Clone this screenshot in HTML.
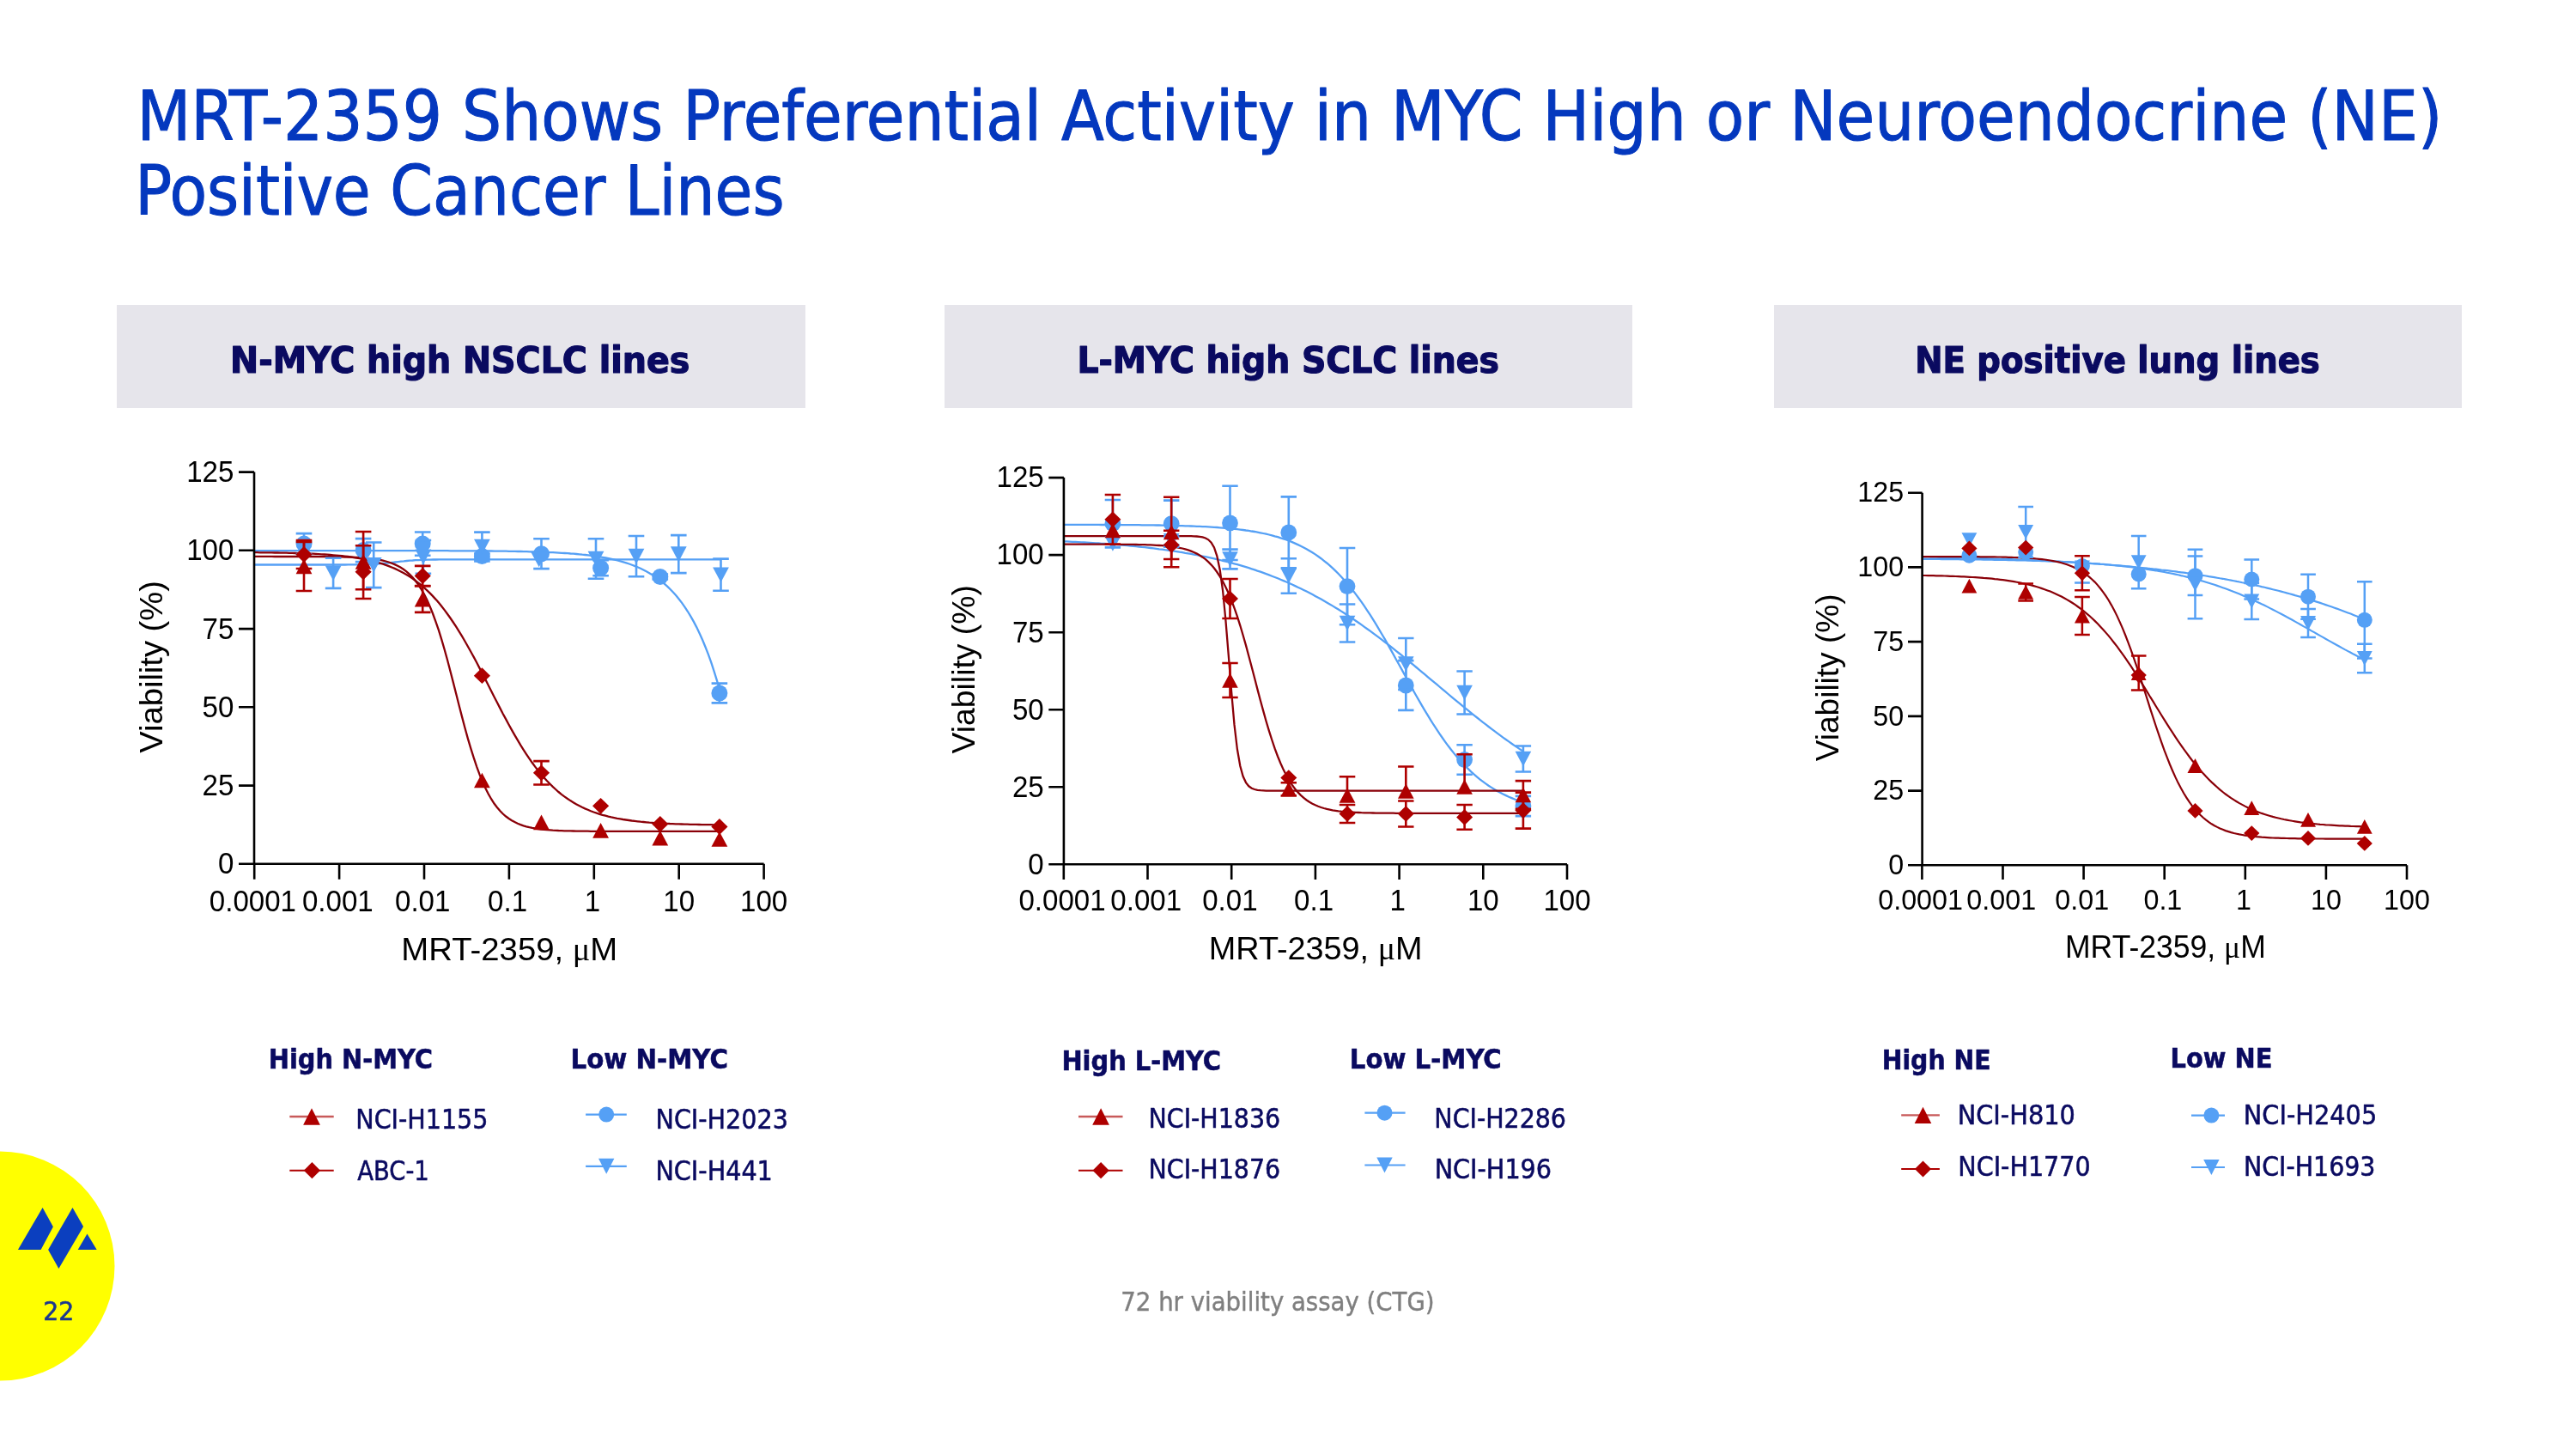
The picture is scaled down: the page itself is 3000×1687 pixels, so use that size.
<!DOCTYPE html>
<html><head><meta charset="utf-8"><title>MRT-2359 Shows Preferential Activity in MYC High or Neuroendocrine (NE) Positive Cancer Lines</title>
<style>html,body{margin:0;padding:0;background:#fff;width:3000px;height:1687px;overflow:hidden}svg{display:block;will-change:transform}</style>
</head><body>
<svg width="3000" height="1687" viewBox="0 0 3000 1687">
<rect width="3000" height="1687" fill="#fff"/>
<g font-family="'DejaVu Sans Condensed', 'DejaVu Sans', sans-serif" fill="#0438BE" stroke="#0438BE" stroke-width="1.0" paint-order="stroke" stroke-linejoin="round"><text x="159.50" y="163.10" text-anchor="start" font-size="80" textLength="2684.77" lengthAdjust="spacingAndGlyphs">MRT-2359 Shows Preferential Activity in MYC High or Neuroendocrine (NE)</text><text x="157.25" y="250.10" text-anchor="start" font-size="80" textLength="756.28" lengthAdjust="spacingAndGlyphs">Positive Cancer Lines</text></g>
<rect x="136" y="355" width="802" height="120" fill="#E6E5EB"/>
<g font-family="'DejaVu Sans Condensed', 'DejaVu Sans', sans-serif" font-weight="bold" fill="#0A0A60" stroke="#0A0A60" stroke-width="1.2" paint-order="stroke" stroke-linejoin="round"><text x="535.75" y="434.30" text-anchor="middle" font-size="43.4" textLength="535.26" lengthAdjust="spacingAndGlyphs">N-MYC high NSCLC lines</text></g>
<rect x="1100" y="355" width="801" height="120" fill="#E6E5EB"/>
<g font-family="'DejaVu Sans Condensed', 'DejaVu Sans', sans-serif" font-weight="bold" fill="#0A0A60" stroke="#0A0A60" stroke-width="1.2" paint-order="stroke" stroke-linejoin="round"><text x="1500.20" y="434.30" text-anchor="middle" font-size="43.4" textLength="491.58" lengthAdjust="spacingAndGlyphs">L-MYC high SCLC lines</text></g>
<rect x="2066" y="355" width="801" height="120" fill="#E6E5EB"/>
<g font-family="'DejaVu Sans Condensed', 'DejaVu Sans', sans-serif" font-weight="bold" fill="#0A0A60" stroke="#0A0A60" stroke-width="1.2" paint-order="stroke" stroke-linejoin="round"><text x="2466.05" y="434.30" text-anchor="middle" font-size="43.4" textLength="471.67" lengthAdjust="spacingAndGlyphs">NE positive lung lines</text></g>
<g font-family="'Liberation Sans', Arial, sans-serif" fill="#000"><path d="M296.0,641.1 L299.4,641.1 L302.8,641.1 L306.2,641.1 L309.6,641.1 L313.1,641.1 L316.5,641.1 L319.9,641.1 L323.3,641.1 L326.7,641.1 L330.1,641.1 L333.5,641.1 L336.9,641.1 L340.4,641.1 L343.8,641.1 L347.2,641.1 L350.6,641.1 L354.0,641.1 L357.4,641.1 L360.8,641.1 L364.2,641.1 L367.7,641.1 L371.1,641.1 L374.5,641.1 L377.9,641.1 L381.3,641.1 L384.7,641.1 L388.1,641.1 L391.5,641.1 L394.9,641.1 L398.4,641.1 L401.8,641.1 L405.2,641.1 L408.6,641.1 L412.0,641.1 L415.4,641.1 L418.8,641.1 L422.2,641.1 L425.7,641.1 L429.1,641.1 L432.5,641.1 L435.9,641.1 L439.3,641.1 L442.7,641.1 L446.1,641.1 L449.5,641.1 L452.9,641.1 L456.4,641.1 L459.8,641.1 L463.2,641.1 L466.6,641.1 L470.0,641.2 L473.4,641.2 L476.8,641.2 L480.2,641.2 L483.7,641.2 L487.1,641.2 L490.5,641.2 L493.9,641.2 L497.3,641.2 L500.7,641.2 L504.1,641.2 L507.5,641.2 L511.0,641.2 L514.4,641.2 L517.8,641.2 L521.2,641.2 L524.6,641.3 L528.0,641.3 L531.4,641.3 L534.8,641.3 L538.2,641.3 L541.7,641.3 L545.1,641.3 L548.5,641.4 L551.9,641.4 L555.3,641.4 L558.7,641.4 L562.1,641.4 L565.5,641.5 L569.0,641.5 L572.4,641.5 L575.8,641.6 L579.2,641.6 L582.6,641.6 L586.0,641.7 L589.4,641.7 L592.8,641.8 L596.3,641.8 L599.7,641.9 L603.1,642.0 L606.5,642.0 L609.9,642.1 L613.3,642.2 L616.7,642.3 L620.1,642.4 L623.5,642.5 L627.0,642.6 L630.4,642.7 L633.8,642.8 L637.2,642.9 L640.6,643.1 L644.0,643.2 L647.4,643.4 L650.8,643.6 L654.3,643.8 L657.7,644.0 L661.1,644.2 L664.5,644.5 L667.9,644.7 L671.3,645.0 L674.7,645.3 L678.1,645.7 L681.6,646.0 L685.0,646.4 L688.4,646.8 L691.8,647.3 L695.2,647.8 L698.6,648.3 L702.0,648.9 L705.4,649.5 L708.8,650.2 L712.3,650.9 L715.7,651.7 L719.1,652.5 L722.5,653.4 L725.9,654.4 L729.3,655.4 L732.7,656.5 L736.1,657.8 L739.6,659.1 L743.0,660.5 L746.4,662.0 L749.8,663.7 L753.2,665.5 L756.6,667.4 L760.0,669.5 L763.4,671.7 L766.8,674.2 L770.3,676.8 L773.7,679.6 L777.1,682.7 L780.5,686.0 L783.9,689.5 L787.3,693.3 L790.7,697.5 L794.1,701.9 L797.6,706.8 L801.0,712.0 L804.4,717.6 L807.8,723.6 L811.2,730.1 L814.6,737.2 L818.0,744.8 L821.4,753.0 L824.9,761.9 L828.3,771.4 L831.7,781.8 L835.1,792.9 L838.5,804.9" stroke="#55A0F5" stroke-width="2.30" fill="none"/>
<path d="M296.0,657.5 L299.4,657.5 L302.8,657.5 L306.3,657.5 L309.7,657.5 L313.1,657.5 L316.5,657.5 L319.9,657.5 L323.3,657.5 L326.8,657.5 L330.2,657.5 L333.6,657.5 L337.0,657.5 L340.4,657.5 L343.9,657.5 L347.3,657.5 L350.7,657.5 L354.1,657.5 L357.5,657.5 L360.9,657.5 L364.4,657.5 L367.8,657.5 L371.2,657.5 L374.6,657.5 L378.0,657.5 L381.5,657.5 L384.9,657.5 L388.3,657.5 L391.7,657.5 L395.1,657.5 L398.5,657.5 L402.0,657.5 L405.4,657.4 L408.8,657.4 L412.2,657.4 L415.6,657.3 L419.1,657.3 L422.5,657.2 L425.9,657.1 L429.3,657.0 L432.7,656.8 L436.1,656.7 L439.6,656.5 L443.0,656.2 L446.4,655.9 L449.8,655.6 L453.2,655.3 L456.7,654.9 L460.1,654.5 L463.5,654.1 L466.9,653.7 L470.3,653.4 L473.7,653.0 L477.2,652.7 L480.6,652.5 L484.0,652.2 L487.4,652.1 L490.8,651.9 L494.3,651.8 L497.7,651.7 L501.1,651.6 L504.5,651.5 L507.9,651.5 L511.3,651.4 L514.8,651.4 L518.2,651.4 L521.6,651.4 L525.0,651.4 L528.4,651.3 L531.9,651.3 L535.3,651.3 L538.7,651.3 L542.1,651.3 L545.5,651.3 L548.9,651.3 L552.4,651.3 L555.8,651.3 L559.2,651.3 L562.6,651.3 L566.0,651.3 L569.5,651.3 L572.9,651.3 L576.3,651.3 L579.7,651.3 L583.1,651.3 L586.6,651.3 L590.0,651.3 L593.4,651.3 L596.8,651.3 L600.2,651.3 L603.6,651.3 L607.1,651.3 L610.5,651.3 L613.9,651.3 L617.3,651.3 L620.7,651.3 L624.2,651.3 L627.6,651.3 L631.0,651.3 L634.4,651.3 L637.8,651.3 L641.2,651.3 L644.7,651.3 L648.1,651.3 L651.5,651.3 L654.9,651.3 L658.3,651.3 L661.8,651.3 L665.2,651.3 L668.6,651.3 L672.0,651.3 L675.4,651.3 L678.8,651.3 L682.3,651.3 L685.7,651.3 L689.1,651.3 L692.5,651.3 L695.9,651.3 L699.4,651.3 L702.8,651.3 L706.2,651.3 L709.6,651.3 L713.0,651.3 L716.4,651.3 L719.9,651.3 L723.3,651.3 L726.7,651.3 L730.1,651.3 L733.5,651.3 L737.0,651.3 L740.4,651.3 L743.8,651.3 L747.2,651.3 L750.6,651.3 L754.0,651.3 L757.5,651.3 L760.9,651.3 L764.3,651.3 L767.7,651.3 L771.1,651.3 L774.6,651.3 L778.0,651.3 L781.4,651.3 L784.8,651.3 L788.2,651.3 L791.6,651.3 L795.1,651.3 L798.5,651.3 L801.9,651.3 L805.3,651.3 L808.7,651.3 L812.2,651.3 L815.6,651.3 L819.0,651.3 L822.4,651.3 L825.8,651.3 L829.2,651.3 L832.7,651.3 L836.1,651.3 L839.5,651.3" stroke="#55A0F5" stroke-width="2.30" fill="none"/>
<path d="M296.0,647.9 L299.4,647.9 L302.8,647.9 L306.2,647.9 L309.6,647.9 L313.0,647.9 L316.5,647.9 L319.9,648.0 L323.3,648.0 L326.7,648.0 L330.1,648.0 L333.5,648.0 L336.9,648.0 L340.3,648.0 L343.7,648.0 L347.1,648.0 L350.5,648.0 L353.9,648.0 L357.4,648.0 L360.8,648.0 L364.2,648.0 L367.6,648.0 L371.0,648.1 L374.4,648.1 L377.8,648.1 L381.2,648.1 L384.6,648.2 L388.0,648.2 L391.4,648.3 L394.9,648.3 L398.3,648.4 L401.7,648.5 L405.1,648.6 L408.5,648.7 L411.9,648.8 L415.3,649.0 L418.7,649.2 L422.1,649.4 L425.5,649.7 L428.9,650.0 L432.4,650.4 L435.8,650.8 L439.2,651.3 L442.6,651.9 L446.0,652.7 L449.4,653.5 L452.8,654.5 L456.2,655.7 L459.6,657.1 L463.0,658.7 L466.4,660.6 L469.8,662.8 L473.3,665.3 L476.7,668.3 L480.1,671.7 L483.5,675.7 L486.9,680.3 L490.3,685.5 L493.7,691.4 L497.1,698.1 L500.5,705.7 L503.9,714.0 L507.3,723.3 L510.8,733.4 L514.2,744.3 L517.6,756.0 L521.0,768.3 L524.4,781.2 L527.8,794.4 L531.2,807.8 L534.6,821.2 L538.0,834.4 L541.4,847.3 L544.8,859.6 L548.3,871.3 L551.7,882.2 L555.1,892.3 L558.5,901.6 L561.9,910.0 L565.3,917.5 L568.7,924.3 L572.1,930.2 L575.5,935.5 L578.9,940.0 L582.3,944.0 L585.7,947.5 L589.2,950.5 L592.6,953.0 L596.0,955.2 L599.4,957.1 L602.8,958.8 L606.2,960.1 L609.6,961.3 L613.0,962.3 L616.4,963.2 L619.8,963.9 L623.2,964.5 L626.7,965.0 L630.1,965.5 L633.5,965.8 L636.9,966.2 L640.3,966.4 L643.7,966.7 L647.1,966.8 L650.5,967.0 L653.9,967.1 L657.3,967.3 L660.7,967.4 L664.2,967.4 L667.6,967.5 L671.0,967.6 L674.4,967.6 L677.8,967.7 L681.2,967.7 L684.6,967.7 L688.0,967.8 L691.4,967.8 L694.8,967.8 L698.2,967.8 L701.6,967.8 L705.1,967.8 L708.5,967.8 L711.9,967.9 L715.3,967.9 L718.7,967.9 L722.1,967.9 L725.5,967.9 L728.9,967.9 L732.3,967.9 L735.7,967.9 L739.1,967.9 L742.6,967.9 L746.0,967.9 L749.4,967.9 L752.8,967.9 L756.2,967.9 L759.6,967.9 L763.0,967.9 L766.4,967.9 L769.8,967.9 L773.2,967.9 L776.6,967.9 L780.1,967.9 L783.5,967.9 L786.9,967.9 L790.3,967.9 L793.7,967.9 L797.1,967.9 L800.5,967.9 L803.9,967.9 L807.3,967.9 L810.7,967.9 L814.1,967.9 L817.5,967.9 L821.0,967.9 L824.4,967.9 L827.8,967.9 L831.2,967.9 L834.6,967.9 L838.0,967.9" stroke="#8A0008" stroke-width="2.30" fill="none"/>
<path d="M296.0,643.2 L299.4,643.2 L302.8,643.3 L306.2,643.3 L309.6,643.3 L313.0,643.4 L316.5,643.4 L319.9,643.5 L323.3,643.5 L326.7,643.6 L330.1,643.7 L333.5,643.7 L336.9,643.8 L340.3,643.9 L343.7,644.0 L347.1,644.1 L350.5,644.2 L353.9,644.3 L357.4,644.4 L360.8,644.6 L364.2,644.7 L367.6,644.9 L371.0,645.1 L374.4,645.3 L377.8,645.5 L381.2,645.7 L384.6,646.0 L388.0,646.3 L391.4,646.6 L394.9,646.9 L398.3,647.2 L401.7,647.6 L405.1,648.0 L408.5,648.5 L411.9,649.0 L415.3,649.5 L418.7,650.1 L422.1,650.7 L425.5,651.3 L428.9,652.1 L432.4,652.9 L435.8,653.7 L439.2,654.6 L442.6,655.6 L446.0,656.7 L449.4,657.9 L452.8,659.1 L456.2,660.5 L459.6,661.9 L463.0,663.5 L466.4,665.2 L469.8,667.0 L473.3,669.0 L476.7,671.1 L480.1,673.3 L483.5,675.7 L486.9,678.3 L490.3,681.0 L493.7,684.0 L497.1,687.1 L500.5,690.4 L503.9,693.9 L507.3,697.6 L510.8,701.6 L514.2,705.7 L517.6,710.1 L521.0,714.7 L524.4,719.5 L527.8,724.5 L531.2,729.7 L534.6,735.1 L538.0,740.7 L541.4,746.5 L544.8,752.5 L548.3,758.7 L551.7,764.9 L555.1,771.3 L558.5,777.9 L561.9,784.4 L565.3,791.1 L568.7,797.8 L572.1,804.5 L575.5,811.2 L578.9,817.8 L582.3,824.4 L585.7,831.0 L589.2,837.4 L592.6,843.7 L596.0,849.9 L599.4,855.9 L602.8,861.7 L606.2,867.4 L609.6,872.8 L613.0,878.1 L616.4,883.2 L619.8,888.0 L623.2,892.6 L626.7,897.0 L630.1,901.2 L633.5,905.2 L636.9,909.0 L640.3,912.5 L643.7,915.9 L647.1,919.0 L650.5,922.0 L653.9,924.8 L657.3,927.4 L660.7,929.8 L664.2,932.1 L667.6,934.2 L671.0,936.2 L674.4,938.0 L677.8,939.8 L681.2,941.4 L684.6,942.8 L688.0,944.2 L691.4,945.5 L694.8,946.7 L698.2,947.8 L701.6,948.8 L705.1,949.7 L708.5,950.6 L711.9,951.4 L715.3,952.1 L718.7,952.8 L722.1,953.4 L725.5,954.0 L728.9,954.5 L732.3,955.0 L735.7,955.5 L739.1,955.9 L742.6,956.3 L746.0,956.7 L749.4,957.0 L752.8,957.3 L756.2,957.6 L759.6,957.8 L763.0,958.1 L766.4,958.3 L769.8,958.5 L773.2,958.7 L776.6,958.8 L780.1,959.0 L783.5,959.1 L786.9,959.3 L790.3,959.4 L793.7,959.5 L797.1,959.6 L800.5,959.7 L803.9,959.8 L807.3,959.9 L810.7,959.9 L814.1,960.0 L817.5,960.1 L821.0,960.1 L824.4,960.2 L827.8,960.2 L831.2,960.3 L834.6,960.3 L838.0,960.3" stroke="#8A0008" stroke-width="2.30" fill="none"/>
<path d="M354.0,621.1 V645.1 M344.7,621.1 H363.3 M344.7,645.1 H363.3" stroke="#55A0F5" stroke-width="2.6" fill="none"/>
<path d="M423.1,627.1 V654.1 M413.8,627.1 H432.4 M413.8,654.1 H432.4" stroke="#55A0F5" stroke-width="2.6" fill="none"/>
<path d="M492.2,619.5 V646.7 M482.9,619.5 H501.5 M482.9,646.7 H501.5" stroke="#55A0F5" stroke-width="2.6" fill="none"/>
<path d="M561.4,644.5 V650.5 M552.1,644.5 H570.7 M552.1,650.5 H570.7" stroke="#55A0F5" stroke-width="2.6" fill="none"/>
<path d="M630.5,627.3 V662.1 M621.2,627.3 H639.8 M621.2,662.1 H639.8" stroke="#55A0F5" stroke-width="2.6" fill="none"/>
<path d="M699.6,652.3 V670.3 M690.3,652.3 H708.9 M690.3,670.3 H708.9" stroke="#55A0F5" stroke-width="2.6" fill="none"/>
<path d="M768.8,668.5 V674.5 M759.5,668.5 H778.1 M759.5,674.5 H778.1" stroke="#55A0F5" stroke-width="2.6" fill="none"/>
<path d="M837.9,795.6 V818.4 M828.6,795.6 H847.2 M828.6,818.4 H847.2" stroke="#55A0F5" stroke-width="2.6" fill="none"/>
<circle cx="354.0" cy="633.1" r="9.5" fill="#55A0F5"/>
<circle cx="423.1" cy="640.6" r="9.5" fill="#55A0F5"/>
<circle cx="492.2" cy="633.1" r="9.5" fill="#55A0F5"/>
<circle cx="561.4" cy="647.5" r="9.5" fill="#55A0F5"/>
<circle cx="630.5" cy="644.7" r="9.5" fill="#55A0F5"/>
<circle cx="699.6" cy="661.3" r="9.5" fill="#55A0F5"/>
<circle cx="768.8" cy="671.5" r="9.5" fill="#55A0F5"/>
<circle cx="837.9" cy="807.0" r="9.5" fill="#55A0F5"/>
<path d="M388.1,649.7 V684.9 M378.8,649.7 H397.4 M378.8,684.9 H397.4" stroke="#55A0F5" stroke-width="2.6" fill="none"/>
<path d="M435.2,631.5 V684.1 M425.9,631.5 H444.5 M425.9,684.1 H444.5" stroke="#55A0F5" stroke-width="2.6" fill="none"/>
<path d="M492.9,629.0 V667.8 M483.6,629.0 H502.2 M483.6,667.8 H502.2" stroke="#55A0F5" stroke-width="2.6" fill="none"/>
<path d="M561.4,619.6 V653.4 M552.1,619.6 H570.7 M552.1,653.4 H570.7" stroke="#55A0F5" stroke-width="2.6" fill="none"/>
<path d="M694.0,627.3 V673.7 M684.7,627.3 H703.3 M684.7,673.7 H703.3" stroke="#55A0F5" stroke-width="2.6" fill="none"/>
<path d="M741.0,624.0 V671.2 M731.7,624.0 H750.3 M731.7,671.2 H750.3" stroke="#55A0F5" stroke-width="2.6" fill="none"/>
<path d="M790.3,623.1 V667.1 M781.0,623.1 H799.6 M781.0,667.1 H799.6" stroke="#55A0F5" stroke-width="2.6" fill="none"/>
<path d="M839.5,650.6 V687.8 M830.2,650.6 H848.8 M830.2,687.8 H848.8" stroke="#55A0F5" stroke-width="2.6" fill="none"/>
<polygon points="378.7,658.5 397.5,658.5 388.1,676.1" fill="#55A0F5"/>
<polygon points="425.8,649.0 444.6,649.0 435.2,666.6" fill="#55A0F5"/>
<polygon points="483.5,639.6 502.3,639.6 492.9,657.2" fill="#55A0F5"/>
<polygon points="552.0,627.7 570.8,627.7 561.4,645.3" fill="#55A0F5"/>
<polygon points="618.3,642.7 637.1,642.7 627.7,660.3" fill="#55A0F5"/>
<polygon points="684.6,641.7 703.4,641.7 694.0,659.3" fill="#55A0F5"/>
<polygon points="731.6,638.8 750.4,638.8 741.0,656.4" fill="#55A0F5"/>
<polygon points="780.9,636.3 799.7,636.3 790.3,653.9" fill="#55A0F5"/>
<polygon points="830.1,660.4 848.9,660.4 839.5,678.0" fill="#55A0F5"/>
<path d="M354.0,629.0 V662.0 M344.7,629.0 H363.3 M344.7,662.0 H363.3" stroke="#AE0000" stroke-width="2.6" fill="none"/>
<path d="M423.1,635.2 V686.3 M413.8,635.2 H432.4 M413.8,686.3 H432.4" stroke="#AE0000" stroke-width="2.6" fill="none"/>
<path d="M492.2,658.9 V682.1 M482.9,658.9 H501.5 M482.9,682.1 H501.5" stroke="#AE0000" stroke-width="2.6" fill="none"/>
<path d="M630.5,886.1 V913.5 M621.2,886.1 H639.8 M621.2,913.5 H639.8" stroke="#AE0000" stroke-width="2.6" fill="none"/>
<polygon points="354.0,636.1 363.6,645.5 354.0,654.9 344.4,645.5" fill="#AE0000"/>
<polygon points="423.1,656.4 432.7,665.8 423.1,675.2 413.5,665.8" fill="#AE0000"/>
<polygon points="492.2,661.1 501.8,670.5 492.2,679.9 482.6,670.5" fill="#AE0000"/>
<polygon points="561.4,777.3 571.0,786.7 561.4,796.1 551.8,786.7" fill="#AE0000"/>
<polygon points="630.5,890.4 640.1,899.8 630.5,909.2 620.9,899.8" fill="#AE0000"/>
<polygon points="699.6,928.9 709.2,938.3 699.6,947.7 690.0,938.3" fill="#AE0000"/>
<polygon points="768.8,950.0 778.4,959.4 768.8,968.8 759.2,959.4" fill="#AE0000"/>
<polygon points="837.9,953.1 847.5,962.5 837.9,971.9 828.3,962.5" fill="#AE0000"/>
<path d="M354.0,631.0 V688.0 M344.7,631.0 H363.3 M344.7,688.0 H363.3" stroke="#AE0000" stroke-width="2.6" fill="none"/>
<path d="M423.1,619.0 V697.0 M413.8,619.0 H432.4 M413.8,697.0 H432.4" stroke="#AE0000" stroke-width="2.6" fill="none"/>
<path d="M492.2,682.3 V712.9 M482.9,682.3 H501.5 M482.9,712.9 H501.5" stroke="#AE0000" stroke-width="2.6" fill="none"/>
<polygon points="344.6,668.3 363.4,668.3 354.0,650.7" fill="#AE0000"/>
<polygon points="413.7,662.8 432.5,662.8 423.1,645.2" fill="#AE0000"/>
<polygon points="482.8,706.4 501.6,706.4 492.2,688.8" fill="#AE0000"/>
<polygon points="552.0,917.3 570.8,917.3 561.4,899.7" fill="#AE0000"/>
<polygon points="621.1,966.2 639.9,966.2 630.5,948.6" fill="#AE0000"/>
<polygon points="690.2,975.7 709.0,975.7 699.6,958.1" fill="#AE0000"/>
<polygon points="759.4,984.4 778.2,984.4 768.8,966.8" fill="#AE0000"/>
<polygon points="828.5,985.8 847.3,985.8 837.9,968.2" fill="#AE0000"/>
<path d="M296.0,549.6 V1005.8 M278.0,1005.8 H889.6 M278.0,914.6 H296.0 M278.0,823.3 H296.0 M278.0,732.1 H296.0 M278.0,640.8 H296.0 M278.0,549.6 H296.0 M296.2,1005.8 V1023.8 M395.1,1005.8 V1023.8 M494.0,1005.8 V1023.8 M592.9,1005.8 V1023.8 M691.8,1005.8 V1023.8 M790.7,1005.8 V1023.8 M889.6,1005.8 V1023.8" stroke="#000" stroke-width="2.6" fill="none" stroke-linecap="butt"/>
<text x="272.4" y="1017.33" text-anchor="end" font-size="35" textLength="18.40" lengthAdjust="spacingAndGlyphs">0</text>
<text x="272.4" y="926.09" text-anchor="end" font-size="35" textLength="36.80" lengthAdjust="spacingAndGlyphs">25</text>
<text x="272.4" y="834.85" text-anchor="end" font-size="35" textLength="36.80" lengthAdjust="spacingAndGlyphs">50</text>
<text x="272.4" y="743.61" text-anchor="end" font-size="35" textLength="36.80" lengthAdjust="spacingAndGlyphs">75</text>
<text x="272.4" y="652.37" text-anchor="end" font-size="35" textLength="55.19" lengthAdjust="spacingAndGlyphs">100</text>
<text x="272.4" y="561.13" text-anchor="end" font-size="35" textLength="55.19" lengthAdjust="spacingAndGlyphs">125</text>
<text x="294.4" y="1061.43" text-anchor="middle" font-size="35" textLength="101.17" lengthAdjust="spacingAndGlyphs">0.0001</text>
<text x="393.3" y="1061.43" text-anchor="middle" font-size="35" textLength="82.78" lengthAdjust="spacingAndGlyphs">0.001</text>
<text x="492.2" y="1061.43" text-anchor="middle" font-size="35" textLength="64.38" lengthAdjust="spacingAndGlyphs">0.01</text>
<text x="591.1" y="1061.43" text-anchor="middle" font-size="35" textLength="45.98" lengthAdjust="spacingAndGlyphs">0.1</text>
<text x="690.0" y="1061.43" text-anchor="middle" font-size="35" textLength="18.40" lengthAdjust="spacingAndGlyphs">1</text>
<text x="790.7" y="1061.43" text-anchor="middle" font-size="35" textLength="36.80" lengthAdjust="spacingAndGlyphs">10</text>
<text x="889.6" y="1061.43" text-anchor="middle" font-size="35" textLength="55.19" lengthAdjust="spacingAndGlyphs">100</text>
<text transform="translate(189.40,776.40) rotate(-90)" text-anchor="middle" font-size="37" textLength="200.67" lengthAdjust="spacingAndGlyphs">Viability (%)</text>
<text x="593.30" y="1117.70" text-anchor="middle" font-size="37" textLength="251.94" lengthAdjust="spacingAndGlyphs">MRT-2359, <tspan font-family="'Liberation Serif', serif">&#956;</tspan>M</text></g>
<g font-family="'Liberation Sans', Arial, sans-serif" fill="#000"><path d="M1239.0,610.8 L1242.4,610.8 L1245.7,610.9 L1249.1,610.9 L1252.5,610.9 L1255.8,610.9 L1259.2,610.9 L1262.6,610.9 L1265.9,610.9 L1269.3,610.9 L1272.6,610.9 L1276.0,610.9 L1279.4,610.9 L1282.7,611.0 L1286.1,611.0 L1289.5,611.0 L1292.8,611.0 L1296.2,611.0 L1299.6,611.0 L1302.9,611.1 L1306.3,611.1 L1309.7,611.1 L1313.0,611.1 L1316.4,611.1 L1319.8,611.2 L1323.1,611.2 L1326.5,611.2 L1329.8,611.3 L1333.2,611.3 L1336.6,611.4 L1339.9,611.4 L1343.3,611.4 L1346.7,611.5 L1350.0,611.5 L1353.4,611.6 L1356.8,611.7 L1360.1,611.7 L1363.5,611.8 L1366.9,611.9 L1370.2,612.0 L1373.6,612.1 L1377.0,612.2 L1380.3,612.3 L1383.7,612.4 L1387.1,612.5 L1390.4,612.6 L1393.8,612.8 L1397.1,612.9 L1400.5,613.1 L1403.9,613.2 L1407.2,613.4 L1410.6,613.6 L1414.0,613.8 L1417.3,614.0 L1420.7,614.3 L1424.1,614.6 L1427.4,614.8 L1430.8,615.1 L1434.2,615.5 L1437.5,615.8 L1440.9,616.2 L1444.3,616.6 L1447.6,617.0 L1451.0,617.5 L1454.3,617.9 L1457.7,618.5 L1461.1,619.0 L1464.4,619.6 L1467.8,620.3 L1471.2,621.0 L1474.5,621.7 L1477.9,622.5 L1481.3,623.3 L1484.6,624.3 L1488.0,625.2 L1491.4,626.3 L1494.7,627.4 L1498.1,628.5 L1501.5,629.8 L1504.8,631.1 L1508.2,632.6 L1511.5,634.1 L1514.9,635.7 L1518.3,637.4 L1521.6,639.2 L1525.0,641.2 L1528.4,643.3 L1531.7,645.4 L1535.1,647.8 L1538.5,650.2 L1541.8,652.8 L1545.2,655.5 L1548.6,658.4 L1551.9,661.4 L1555.3,664.6 L1558.7,668.0 L1562.0,671.5 L1565.4,675.2 L1568.7,679.1 L1572.1,683.1 L1575.5,687.3 L1578.8,691.6 L1582.2,696.2 L1585.6,700.9 L1588.9,705.7 L1592.3,710.8 L1595.7,715.9 L1599.0,721.2 L1602.4,726.7 L1605.8,732.3 L1609.1,738.0 L1612.5,743.7 L1615.9,749.6 L1619.2,755.6 L1622.6,761.6 L1625.9,767.7 L1629.3,773.8 L1632.7,779.9 L1636.0,786.0 L1639.4,792.1 L1642.8,798.2 L1646.1,804.2 L1649.5,810.2 L1652.9,816.1 L1656.2,821.9 L1659.6,827.6 L1663.0,833.2 L1666.3,838.6 L1669.7,844.0 L1673.1,849.1 L1676.4,854.2 L1679.8,859.0 L1683.2,863.8 L1686.5,868.3 L1689.9,872.7 L1693.2,876.9 L1696.6,880.9 L1700.0,884.8 L1703.3,888.5 L1706.7,892.1 L1710.1,895.4 L1713.4,898.6 L1716.8,901.7 L1720.2,904.6 L1723.5,907.3 L1726.9,909.9 L1730.3,912.4 L1733.6,914.7 L1737.0,916.9 L1740.4,919.0 L1743.7,920.9 L1747.1,922.8 L1750.4,924.5 L1753.8,926.1 L1757.2,927.7 L1760.5,929.1 L1763.9,930.5 L1767.3,931.7 L1770.6,932.9 L1774.0,934.0" stroke="#55A0F5" stroke-width="2.28" fill="none"/>
<path d="M1239.0,630.3 L1242.4,630.4 L1245.7,630.6 L1249.1,630.8 L1252.5,630.9 L1255.8,631.1 L1259.2,631.3 L1262.6,631.5 L1265.9,631.7 L1269.3,631.9 L1272.6,632.1 L1276.0,632.3 L1279.4,632.5 L1282.7,632.8 L1286.1,633.0 L1289.5,633.2 L1292.8,633.5 L1296.2,633.8 L1299.6,634.0 L1302.9,634.3 L1306.3,634.6 L1309.7,634.9 L1313.0,635.2 L1316.4,635.5 L1319.8,635.8 L1323.1,636.2 L1326.5,636.5 L1329.8,636.9 L1333.2,637.2 L1336.6,637.6 L1339.9,638.0 L1343.3,638.4 L1346.7,638.8 L1350.0,639.3 L1353.4,639.7 L1356.8,640.2 L1360.1,640.6 L1363.5,641.1 L1366.9,641.6 L1370.2,642.1 L1373.6,642.7 L1377.0,643.2 L1380.3,643.8 L1383.7,644.3 L1387.1,644.9 L1390.4,645.6 L1393.8,646.2 L1397.1,646.8 L1400.5,647.5 L1403.9,648.2 L1407.2,648.9 L1410.6,649.6 L1414.0,650.4 L1417.3,651.2 L1420.7,652.0 L1424.1,652.8 L1427.4,653.6 L1430.8,654.5 L1434.2,655.4 L1437.5,656.3 L1440.9,657.2 L1444.3,658.2 L1447.6,659.2 L1451.0,660.2 L1454.3,661.2 L1457.7,662.3 L1461.1,663.4 L1464.4,664.6 L1467.8,665.7 L1471.2,666.9 L1474.5,668.1 L1477.9,669.4 L1481.3,670.7 L1484.6,672.0 L1488.0,673.3 L1491.4,674.7 L1494.7,676.1 L1498.1,677.5 L1501.5,679.0 L1504.8,680.5 L1508.2,682.1 L1511.5,683.7 L1514.9,685.3 L1518.3,686.9 L1521.6,688.6 L1525.0,690.3 L1528.4,692.1 L1531.7,693.9 L1535.1,695.7 L1538.5,697.6 L1541.8,699.5 L1545.2,701.4 L1548.6,703.4 L1551.9,705.4 L1555.3,707.4 L1558.7,709.5 L1562.0,711.6 L1565.4,713.8 L1568.7,716.0 L1572.1,718.2 L1575.5,720.4 L1578.8,722.7 L1582.2,725.0 L1585.6,727.4 L1588.9,729.8 L1592.3,732.2 L1595.7,734.6 L1599.0,737.1 L1602.4,739.6 L1605.8,742.1 L1609.1,744.7 L1612.5,747.3 L1615.9,749.9 L1619.2,752.5 L1622.6,755.2 L1625.9,757.8 L1629.3,760.5 L1632.7,763.2 L1636.0,766.0 L1639.4,768.7 L1642.8,771.5 L1646.1,774.2 L1649.5,777.0 L1652.9,779.8 L1656.2,782.6 L1659.6,785.4 L1663.0,788.3 L1666.3,791.1 L1669.7,793.9 L1673.1,796.7 L1676.4,799.5 L1679.8,802.4 L1683.2,805.2 L1686.5,808.0 L1689.9,810.8 L1693.2,813.6 L1696.6,816.4 L1700.0,819.2 L1703.3,821.9 L1706.7,824.7 L1710.1,827.4 L1713.4,830.1 L1716.8,832.8 L1720.2,835.5 L1723.5,838.2 L1726.9,840.8 L1730.3,843.4 L1733.6,846.0 L1737.0,848.6 L1740.4,851.1 L1743.7,853.6 L1747.1,856.1 L1750.4,858.6 L1753.8,861.0 L1757.2,863.4 L1760.5,865.7 L1763.9,868.1 L1767.3,870.4 L1770.6,872.6 L1774.0,874.9" stroke="#55A0F5" stroke-width="2.28" fill="none"/>
<path d="M1239.0,624.1 L1242.4,624.1 L1245.7,624.1 L1249.1,624.1 L1252.5,624.1 L1255.8,624.1 L1259.2,624.1 L1262.6,624.1 L1265.9,624.1 L1269.3,624.1 L1272.6,624.1 L1276.0,624.1 L1279.4,624.1 L1282.7,624.1 L1286.1,624.1 L1289.5,624.1 L1292.8,624.1 L1296.2,624.1 L1299.6,624.1 L1302.9,624.1 L1306.3,624.1 L1309.7,624.1 L1313.0,624.1 L1316.4,624.1 L1319.8,624.1 L1323.1,624.1 L1326.5,624.1 L1329.8,624.1 L1333.2,624.1 L1336.6,624.1 L1339.9,624.1 L1343.3,624.1 L1346.7,624.1 L1350.0,624.1 L1353.4,624.1 L1356.8,624.1 L1360.1,624.1 L1363.5,624.1 L1366.9,624.1 L1370.2,624.1 L1373.6,624.1 L1377.0,624.1 L1380.3,624.1 L1383.7,624.1 L1387.1,624.2 L1390.4,624.3 L1393.8,624.5 L1397.1,624.8 L1400.5,625.4 L1403.9,626.5 L1407.2,628.3 L1410.6,631.7 L1414.0,637.5 L1417.3,647.3 L1420.7,663.4 L1424.1,687.9 L1427.4,722.0 L1430.8,763.3 L1434.2,806.1 L1437.5,843.7 L1440.9,872.3 L1444.3,891.7 L1447.6,903.8 L1451.0,911.1 L1454.3,915.3 L1457.7,917.7 L1461.1,919.0 L1464.4,919.8 L1467.8,920.2 L1471.2,920.4 L1474.5,920.6 L1477.9,920.6 L1481.3,920.7 L1484.6,920.7 L1488.0,920.7 L1491.4,920.7 L1494.7,920.7 L1498.1,920.7 L1501.5,920.7 L1504.8,920.7 L1508.2,920.7 L1511.5,920.7 L1514.9,920.7 L1518.3,920.7 L1521.6,920.7 L1525.0,920.7 L1528.4,920.7 L1531.7,920.7 L1535.1,920.7 L1538.5,920.7 L1541.8,920.7 L1545.2,920.7 L1548.6,920.7 L1551.9,920.7 L1555.3,920.7 L1558.7,920.7 L1562.0,920.7 L1565.4,920.7 L1568.7,920.7 L1572.1,920.7 L1575.5,920.7 L1578.8,920.7 L1582.2,920.7 L1585.6,920.7 L1588.9,920.7 L1592.3,920.7 L1595.7,920.7 L1599.0,920.7 L1602.4,920.7 L1605.8,920.7 L1609.1,920.7 L1612.5,920.7 L1615.9,920.7 L1619.2,920.7 L1622.6,920.7 L1625.9,920.7 L1629.3,920.7 L1632.7,920.7 L1636.0,920.7 L1639.4,920.7 L1642.8,920.7 L1646.1,920.7 L1649.5,920.7 L1652.9,920.7 L1656.2,920.7 L1659.6,920.7 L1663.0,920.7 L1666.3,920.7 L1669.7,920.7 L1673.1,920.7 L1676.4,920.7 L1679.8,920.7 L1683.2,920.7 L1686.5,920.7 L1689.9,920.7 L1693.2,920.7 L1696.6,920.7 L1700.0,920.7 L1703.3,920.7 L1706.7,920.7 L1710.1,920.7 L1713.4,920.7 L1716.8,920.7 L1720.2,920.7 L1723.5,920.7 L1726.9,920.7 L1730.3,920.7 L1733.6,920.7 L1737.0,920.7 L1740.4,920.7 L1743.7,920.7 L1747.1,920.7 L1750.4,920.7 L1753.8,920.7 L1757.2,920.7 L1760.5,920.7 L1763.9,920.7 L1767.3,920.7 L1770.6,920.7 L1774.0,920.7" stroke="#8A0008" stroke-width="2.28" fill="none"/>
<path d="M1239.0,633.6 L1242.4,633.6 L1245.7,633.6 L1249.1,633.6 L1252.5,633.6 L1255.8,633.7 L1259.2,633.7 L1262.6,633.7 L1265.9,633.7 L1269.3,633.7 L1272.6,633.7 L1276.0,633.7 L1279.4,633.7 L1282.7,633.7 L1286.1,633.7 L1289.5,633.7 L1292.8,633.7 L1296.2,633.7 L1299.6,633.7 L1302.9,633.8 L1306.3,633.8 L1309.7,633.8 L1313.0,633.9 L1316.4,633.9 L1319.8,633.9 L1323.1,634.0 L1326.5,634.1 L1329.8,634.1 L1333.2,634.2 L1336.6,634.3 L1339.9,634.4 L1343.3,634.6 L1346.7,634.8 L1350.0,635.0 L1353.4,635.2 L1356.8,635.5 L1360.1,635.8 L1363.5,636.2 L1366.9,636.6 L1370.2,637.2 L1373.6,637.8 L1377.0,638.5 L1380.3,639.4 L1383.7,640.4 L1387.1,641.6 L1390.4,643.0 L1393.8,644.6 L1397.1,646.5 L1400.5,648.7 L1403.9,651.2 L1407.2,654.2 L1410.6,657.6 L1414.0,661.5 L1417.3,666.0 L1420.7,671.1 L1424.1,677.0 L1427.4,683.5 L1430.8,690.8 L1434.2,699.0 L1437.5,707.9 L1440.9,717.7 L1444.3,728.3 L1447.6,739.5 L1451.0,751.4 L1454.3,763.8 L1457.7,776.5 L1461.1,789.5 L1464.4,802.4 L1467.8,815.2 L1471.2,827.6 L1474.5,839.5 L1477.9,850.9 L1481.3,861.5 L1484.6,871.4 L1488.0,880.5 L1491.4,888.7 L1494.7,896.1 L1498.1,902.8 L1501.5,908.7 L1504.8,913.9 L1508.2,918.5 L1511.5,922.4 L1514.9,925.9 L1518.3,928.9 L1521.6,931.5 L1525.0,933.8 L1528.4,935.7 L1531.7,937.3 L1535.1,938.8 L1538.5,940.0 L1541.8,941.0 L1545.2,941.9 L1548.6,942.6 L1551.9,943.3 L1555.3,943.8 L1558.7,944.3 L1562.0,944.7 L1565.4,945.0 L1568.7,945.3 L1572.1,945.5 L1575.5,945.7 L1578.8,945.9 L1582.2,946.0 L1585.6,946.2 L1588.9,946.3 L1592.3,946.4 L1595.7,946.4 L1599.0,946.5 L1602.4,946.6 L1605.8,946.6 L1609.1,946.6 L1612.5,946.7 L1615.9,946.7 L1619.2,946.7 L1622.6,946.7 L1625.9,946.8 L1629.3,946.8 L1632.7,946.8 L1636.0,946.8 L1639.4,946.8 L1642.8,946.8 L1646.1,946.8 L1649.5,946.8 L1652.9,946.8 L1656.2,946.8 L1659.6,946.8 L1663.0,946.8 L1666.3,946.8 L1669.7,946.8 L1673.1,946.8 L1676.4,946.8 L1679.8,946.8 L1683.2,946.8 L1686.5,946.8 L1689.9,946.9 L1693.2,946.9 L1696.6,946.9 L1700.0,946.9 L1703.3,946.9 L1706.7,946.9 L1710.1,946.9 L1713.4,946.9 L1716.8,946.9 L1720.2,946.9 L1723.5,946.9 L1726.9,946.9 L1730.3,946.9 L1733.6,946.9 L1737.0,946.9 L1740.4,946.9 L1743.7,946.9 L1747.1,946.9 L1750.4,946.9 L1753.8,946.9 L1757.2,946.9 L1760.5,946.9 L1763.9,946.9 L1767.3,946.9 L1770.6,946.9 L1774.0,946.9" stroke="#8A0008" stroke-width="2.28" fill="none"/>
<path d="M1295.9,582.0 V637.4 M1286.7,582.0 H1305.1 M1286.7,637.4 H1305.1" stroke="#55A0F5" stroke-width="2.6" fill="none"/>
<path d="M1364.2,582.6 V636.8 M1355.0,582.6 H1373.4 M1355.0,636.8 H1373.4" stroke="#55A0F5" stroke-width="2.6" fill="none"/>
<path d="M1432.5,565.8 V652.0 M1423.3,565.8 H1441.7 M1423.3,652.0 H1441.7" stroke="#55A0F5" stroke-width="2.6" fill="none"/>
<path d="M1500.8,578.4 V661.4 M1491.6,578.4 H1510.0 M1491.6,661.4 H1510.0" stroke="#55A0F5" stroke-width="2.6" fill="none"/>
<path d="M1569.0,638.0 V727.2 M1559.8,638.0 H1578.3 M1559.8,727.2 H1578.3" stroke="#55A0F5" stroke-width="2.6" fill="none"/>
<path d="M1637.3,769.1 V826.9 M1628.1,769.1 H1646.5 M1628.1,826.9 H1646.5" stroke="#55A0F5" stroke-width="2.6" fill="none"/>
<path d="M1705.6,867.2 V901.8 M1696.4,867.2 H1714.8 M1696.4,901.8 H1714.8" stroke="#55A0F5" stroke-width="2.6" fill="none"/>
<path d="M1773.9,926.9 V950.1 M1764.7,926.9 H1783.1 M1764.7,950.1 H1783.1" stroke="#55A0F5" stroke-width="2.6" fill="none"/>
<circle cx="1295.9" cy="609.7" r="9.4" fill="#55A0F5"/>
<circle cx="1364.2" cy="609.7" r="9.4" fill="#55A0F5"/>
<circle cx="1432.5" cy="608.9" r="9.4" fill="#55A0F5"/>
<circle cx="1500.8" cy="619.9" r="9.4" fill="#55A0F5"/>
<circle cx="1569.0" cy="682.6" r="9.4" fill="#55A0F5"/>
<circle cx="1637.3" cy="798.0" r="9.4" fill="#55A0F5"/>
<circle cx="1705.6" cy="884.5" r="9.4" fill="#55A0F5"/>
<circle cx="1773.9" cy="938.5" r="9.4" fill="#55A0F5"/>
<path d="M1364.2,624.6 V634.6 M1355.0,624.6 H1373.4 M1355.0,634.6 H1373.4" stroke="#55A0F5" stroke-width="2.6" fill="none"/>
<path d="M1432.5,639.6 V662.4 M1423.3,639.6 H1441.7 M1423.3,662.4 H1441.7" stroke="#55A0F5" stroke-width="2.6" fill="none"/>
<path d="M1500.8,650.2 V690.8 M1491.6,650.2 H1510.0 M1491.6,690.8 H1510.0" stroke="#55A0F5" stroke-width="2.6" fill="none"/>
<path d="M1569.0,703.5 V747.5 M1559.8,703.5 H1578.3 M1559.8,747.5 H1578.3" stroke="#55A0F5" stroke-width="2.6" fill="none"/>
<path d="M1637.3,743.0 V803.0 M1628.1,743.0 H1646.5 M1628.1,803.0 H1646.5" stroke="#55A0F5" stroke-width="2.6" fill="none"/>
<path d="M1705.6,781.5 V831.5 M1696.4,781.5 H1714.8 M1696.4,831.5 H1714.8" stroke="#55A0F5" stroke-width="2.6" fill="none"/>
<path d="M1773.9,868.5 V898.5 M1764.7,868.5 H1783.1 M1764.7,898.5 H1783.1" stroke="#55A0F5" stroke-width="2.6" fill="none"/>
<polygon points="1286.6,624.3 1305.2,624.3 1295.9,641.7" fill="#55A0F5"/>
<polygon points="1354.9,620.9 1373.5,620.9 1364.2,638.3" fill="#55A0F5"/>
<polygon points="1423.2,642.3 1441.8,642.3 1432.5,659.7" fill="#55A0F5"/>
<polygon points="1491.5,661.8 1510.1,661.8 1500.8,679.2" fill="#55A0F5"/>
<polygon points="1559.7,716.8 1578.4,716.8 1569.0,734.2" fill="#55A0F5"/>
<polygon points="1628.0,764.3 1646.6,764.3 1637.3,781.7" fill="#55A0F5"/>
<polygon points="1696.3,797.8 1714.9,797.8 1705.6,815.2" fill="#55A0F5"/>
<polygon points="1764.6,874.8 1783.2,874.8 1773.9,892.2" fill="#55A0F5"/>
<path d="M1364.2,578.8 V660.2 M1355.0,578.8 H1373.4 M1355.0,660.2 H1373.4" stroke="#AE0000" stroke-width="2.6" fill="none"/>
<path d="M1432.5,772.0 V812.0 M1423.3,772.0 H1441.7 M1423.3,812.0 H1441.7" stroke="#AE0000" stroke-width="2.6" fill="none"/>
<path d="M1500.8,911.3 V926.3 M1491.6,911.3 H1510.0 M1491.6,926.3 H1510.0" stroke="#AE0000" stroke-width="2.6" fill="none"/>
<path d="M1569.0,904.3 V926.0 M1559.8,904.3 H1578.3" stroke="#AE0000" stroke-width="2.6" fill="none"/>
<path d="M1637.3,892.5 V921.0 M1628.1,892.5 H1646.5" stroke="#AE0000" stroke-width="2.6" fill="none"/>
<path d="M1705.6,878.3 V916.0 M1696.4,878.3 H1714.8" stroke="#AE0000" stroke-width="2.6" fill="none"/>
<path d="M1773.9,909.1 V941.9 M1764.7,909.1 H1783.1 M1764.7,941.9 H1783.1" stroke="#AE0000" stroke-width="2.6" fill="none"/>
<polygon points="1286.6,626.2 1305.2,626.2 1295.9,608.8" fill="#AE0000"/>
<polygon points="1354.9,628.2 1373.5,628.2 1364.2,610.8" fill="#AE0000"/>
<polygon points="1423.2,800.7 1441.8,800.7 1432.5,783.3" fill="#AE0000"/>
<polygon points="1491.5,927.5 1510.1,927.5 1500.8,910.1" fill="#AE0000"/>
<polygon points="1559.7,934.7 1578.4,934.7 1569.0,917.3" fill="#AE0000"/>
<polygon points="1628.0,929.7 1646.6,929.7 1637.3,912.3" fill="#AE0000"/>
<polygon points="1696.3,924.7 1714.9,924.7 1705.6,907.3" fill="#AE0000"/>
<polygon points="1764.6,934.2 1783.2,934.2 1773.9,916.8" fill="#AE0000"/>
<path d="M1295.9,576.0 V633.6 M1286.7,576.0 H1305.1 M1286.7,633.6 H1305.1" stroke="#AE0000" stroke-width="2.6" fill="none"/>
<path d="M1364.2,617.8 V651.0 M1355.0,617.8 H1373.4 M1355.0,651.0 H1373.4" stroke="#AE0000" stroke-width="2.6" fill="none"/>
<path d="M1432.5,674.0 V720.0 M1423.3,674.0 H1441.7 M1423.3,720.0 H1441.7" stroke="#AE0000" stroke-width="2.6" fill="none"/>
<path d="M1569.0,937.0 V958.0 M1559.8,937.0 H1578.3 M1559.8,958.0 H1578.3" stroke="#AE0000" stroke-width="2.6" fill="none"/>
<path d="M1637.3,932.5 V962.5 M1628.1,932.5 H1646.5 M1628.1,962.5 H1646.5" stroke="#AE0000" stroke-width="2.6" fill="none"/>
<path d="M1705.6,937.0 V965.8 M1696.4,937.0 H1714.8 M1696.4,965.8 H1714.8" stroke="#AE0000" stroke-width="2.6" fill="none"/>
<path d="M1773.9,922.6 V964.6 M1764.7,922.6 H1783.1 M1764.7,964.6 H1783.1" stroke="#AE0000" stroke-width="2.6" fill="none"/>
<polygon points="1295.9,595.5 1305.4,604.8 1295.9,614.1 1286.4,604.8" fill="#AE0000"/>
<polygon points="1364.2,625.1 1373.7,634.4 1364.2,643.7 1354.7,634.4" fill="#AE0000"/>
<polygon points="1432.5,687.7 1442.0,697.0 1432.5,706.3 1423.0,697.0" fill="#AE0000"/>
<polygon points="1500.8,896.2 1510.3,905.5 1500.8,914.8 1491.3,905.5" fill="#AE0000"/>
<polygon points="1569.0,938.2 1578.6,947.5 1569.0,956.8 1559.5,947.5" fill="#AE0000"/>
<polygon points="1637.3,938.2 1646.8,947.5 1637.3,956.8 1627.8,947.5" fill="#AE0000"/>
<polygon points="1705.6,942.1 1715.1,951.4 1705.6,960.7 1696.1,951.4" fill="#AE0000"/>
<polygon points="1773.9,934.3 1783.4,943.6 1773.9,952.9 1764.4,943.6" fill="#AE0000"/>
<path d="M1238.9,556.1 V1006.3 M1221.3,1006.3 H1825.0 M1221.3,916.3 H1238.9 M1221.3,826.2 H1238.9 M1221.3,736.2 H1238.9 M1221.3,646.1 H1238.9 M1221.3,556.1 H1238.9 M1238.8,1006.3 V1023.9 M1336.5,1006.3 V1023.9 M1434.2,1006.3 V1023.9 M1531.9,1006.3 V1023.9 M1629.6,1006.3 V1023.9 M1727.3,1006.3 V1023.9 M1825.0,1006.3 V1023.9" stroke="#000" stroke-width="2.6" fill="none" stroke-linecap="butt"/>
<text x="1215.7" y="1017.63" text-anchor="end" font-size="35" textLength="18.40" lengthAdjust="spacingAndGlyphs">0</text>
<text x="1215.7" y="927.59" text-anchor="end" font-size="35" textLength="36.80" lengthAdjust="spacingAndGlyphs">25</text>
<text x="1215.7" y="837.55" text-anchor="end" font-size="35" textLength="36.80" lengthAdjust="spacingAndGlyphs">50</text>
<text x="1215.7" y="747.51" text-anchor="end" font-size="35" textLength="36.80" lengthAdjust="spacingAndGlyphs">75</text>
<text x="1215.7" y="657.47" text-anchor="end" font-size="35" textLength="55.19" lengthAdjust="spacingAndGlyphs">100</text>
<text x="1215.7" y="567.43" text-anchor="end" font-size="35" textLength="55.19" lengthAdjust="spacingAndGlyphs">125</text>
<text x="1237.0" y="1060.23" text-anchor="middle" font-size="35" textLength="101.17" lengthAdjust="spacingAndGlyphs">0.0001</text>
<text x="1334.7" y="1060.23" text-anchor="middle" font-size="35" textLength="82.78" lengthAdjust="spacingAndGlyphs">0.001</text>
<text x="1432.4" y="1060.23" text-anchor="middle" font-size="35" textLength="64.38" lengthAdjust="spacingAndGlyphs">0.01</text>
<text x="1530.1" y="1060.23" text-anchor="middle" font-size="35" textLength="45.98" lengthAdjust="spacingAndGlyphs">0.1</text>
<text x="1627.8" y="1060.23" text-anchor="middle" font-size="35" textLength="18.40" lengthAdjust="spacingAndGlyphs">1</text>
<text x="1727.3" y="1060.23" text-anchor="middle" font-size="35" textLength="36.80" lengthAdjust="spacingAndGlyphs">10</text>
<text x="1825.0" y="1060.23" text-anchor="middle" font-size="35" textLength="55.19" lengthAdjust="spacingAndGlyphs">100</text>
<text transform="translate(1135.00,779.30) rotate(-90)" text-anchor="middle" font-size="37" textLength="196.42" lengthAdjust="spacingAndGlyphs">Viability (%)</text>
<text x="1532.10" y="1117.20" text-anchor="middle" font-size="37" textLength="248.66" lengthAdjust="spacingAndGlyphs">MRT-2359, <tspan font-family="'Liberation Serif', serif">&#956;</tspan>M</text></g>
<g font-family="'Liberation Sans', Arial, sans-serif" fill="#000"><path d="M2238.7,648.4 L2241.9,648.5 L2245.2,648.5 L2248.4,648.6 L2251.7,648.7 L2254.9,648.7 L2258.1,648.8 L2261.4,648.9 L2264.6,649.0 L2267.9,649.0 L2271.1,649.1 L2274.3,649.2 L2277.6,649.3 L2280.8,649.3 L2284.1,649.4 L2287.3,649.5 L2290.5,649.6 L2293.8,649.7 L2297.0,649.8 L2300.3,649.8 L2303.5,649.9 L2306.7,650.0 L2310.0,650.1 L2313.2,650.2 L2316.5,650.3 L2319.7,650.4 L2322.9,650.5 L2326.2,650.6 L2329.4,650.8 L2332.6,650.9 L2335.9,651.0 L2339.1,651.1 L2342.4,651.2 L2345.6,651.3 L2348.8,651.5 L2352.1,651.6 L2355.3,651.7 L2358.6,651.9 L2361.8,652.0 L2365.0,652.1 L2368.3,652.3 L2371.5,652.4 L2374.8,652.6 L2378.0,652.7 L2381.2,652.9 L2384.5,653.0 L2387.7,653.2 L2391.0,653.4 L2394.2,653.5 L2397.4,653.7 L2400.7,653.9 L2403.9,654.1 L2407.2,654.2 L2410.4,654.4 L2413.6,654.6 L2416.9,654.8 L2420.1,655.0 L2423.4,655.2 L2426.6,655.4 L2429.8,655.6 L2433.1,655.9 L2436.3,656.1 L2439.6,656.3 L2442.8,656.5 L2446.0,656.8 L2449.3,657.0 L2452.5,657.3 L2455.8,657.5 L2459.0,657.8 L2462.2,658.0 L2465.5,658.3 L2468.7,658.6 L2472.0,658.9 L2475.2,659.2 L2478.4,659.4 L2481.7,659.7 L2484.9,660.0 L2488.2,660.4 L2491.4,660.7 L2494.6,661.0 L2497.9,661.3 L2501.1,661.7 L2504.3,662.0 L2507.6,662.4 L2510.8,662.7 L2514.1,663.1 L2517.3,663.5 L2520.5,663.8 L2523.8,664.2 L2527.0,664.6 L2530.3,665.0 L2533.5,665.4 L2536.7,665.9 L2540.0,666.3 L2543.2,666.7 L2546.5,667.2 L2549.7,667.6 L2552.9,668.1 L2556.2,668.6 L2559.4,669.0 L2562.7,669.5 L2565.9,670.0 L2569.1,670.5 L2572.4,671.1 L2575.6,671.6 L2578.9,672.1 L2582.1,672.7 L2585.3,673.3 L2588.6,673.8 L2591.8,674.4 L2595.1,675.0 L2598.3,675.6 L2601.5,676.2 L2604.8,676.9 L2608.0,677.5 L2611.3,678.2 L2614.5,678.8 L2617.7,679.5 L2621.0,680.2 L2624.2,680.9 L2627.5,681.6 L2630.7,682.3 L2633.9,683.1 L2637.2,683.8 L2640.4,684.6 L2643.7,685.4 L2646.9,686.2 L2650.1,687.0 L2653.4,687.8 L2656.6,688.6 L2659.9,689.5 L2663.1,690.4 L2666.3,691.2 L2669.6,692.1 L2672.8,693.1 L2676.0,694.0 L2679.3,694.9 L2682.5,695.9 L2685.8,696.8 L2689.0,697.8 L2692.2,698.8 L2695.5,699.9 L2698.7,700.9 L2702.0,701.9 L2705.2,703.0 L2708.4,704.1 L2711.7,705.2 L2714.9,706.3 L2718.2,707.5 L2721.4,708.6 L2724.6,709.8 L2727.9,711.0 L2731.1,712.2 L2734.4,713.4 L2737.6,714.6 L2740.8,715.9 L2744.1,717.2 L2747.3,718.4 L2750.6,719.8 L2753.8,721.1" stroke="#55A0F5" stroke-width="2.18" fill="none"/>
<path d="M2238.7,650.9 L2241.9,650.9 L2245.2,651.0 L2248.4,651.0 L2251.7,651.0 L2254.9,651.0 L2258.1,651.0 L2261.4,651.1 L2264.6,651.1 L2267.9,651.1 L2271.1,651.1 L2274.3,651.2 L2277.6,651.2 L2280.8,651.2 L2284.1,651.3 L2287.3,651.3 L2290.5,651.3 L2293.8,651.4 L2297.0,651.4 L2300.3,651.4 L2303.5,651.5 L2306.7,651.5 L2310.0,651.6 L2313.2,651.6 L2316.5,651.7 L2319.7,651.7 L2322.9,651.8 L2326.2,651.8 L2329.4,651.9 L2332.6,651.9 L2335.9,652.0 L2339.1,652.1 L2342.4,652.1 L2345.6,652.2 L2348.8,652.3 L2352.1,652.3 L2355.3,652.4 L2358.6,652.5 L2361.8,652.6 L2365.0,652.7 L2368.3,652.8 L2371.5,652.9 L2374.8,653.0 L2378.0,653.1 L2381.2,653.2 L2384.5,653.3 L2387.7,653.4 L2391.0,653.5 L2394.2,653.7 L2397.4,653.8 L2400.7,654.0 L2403.9,654.1 L2407.2,654.3 L2410.4,654.4 L2413.6,654.6 L2416.9,654.8 L2420.1,654.9 L2423.4,655.1 L2426.6,655.3 L2429.8,655.5 L2433.1,655.7 L2436.3,656.0 L2439.6,656.2 L2442.8,656.4 L2446.0,656.7 L2449.3,656.9 L2452.5,657.2 L2455.8,657.5 L2459.0,657.8 L2462.2,658.1 L2465.5,658.4 L2468.7,658.7 L2472.0,659.1 L2475.2,659.4 L2478.4,659.8 L2481.7,660.2 L2484.9,660.6 L2488.2,661.0 L2491.4,661.4 L2494.6,661.8 L2497.9,662.3 L2501.1,662.8 L2504.3,663.3 L2507.6,663.8 L2510.8,664.3 L2514.1,664.9 L2517.3,665.4 L2520.5,666.0 L2523.8,666.7 L2527.0,667.3 L2530.3,667.9 L2533.5,668.6 L2536.7,669.3 L2540.0,670.1 L2543.2,670.8 L2546.5,671.6 L2549.7,672.4 L2552.9,673.2 L2556.2,674.1 L2559.4,675.0 L2562.7,675.9 L2565.9,676.8 L2569.1,677.8 L2572.4,678.8 L2575.6,679.8 L2578.9,680.8 L2582.1,681.9 L2585.3,683.0 L2588.6,684.2 L2591.8,685.3 L2595.1,686.5 L2598.3,687.8 L2601.5,689.0 L2604.8,690.3 L2608.0,691.6 L2611.3,693.0 L2614.5,694.4 L2617.7,695.8 L2621.0,697.2 L2624.2,698.7 L2627.5,700.2 L2630.7,701.7 L2633.9,703.3 L2637.2,704.8 L2640.4,706.4 L2643.7,708.1 L2646.9,709.7 L2650.1,711.4 L2653.4,713.1 L2656.6,714.8 L2659.9,716.5 L2663.1,718.3 L2666.3,720.0 L2669.6,721.8 L2672.8,723.6 L2676.0,725.4 L2679.3,727.2 L2682.5,729.1 L2685.8,730.9 L2689.0,732.7 L2692.2,734.6 L2695.5,736.4 L2698.7,738.3 L2702.0,740.1 L2705.2,741.9 L2708.4,743.8 L2711.7,745.6 L2714.9,747.4 L2718.2,749.2 L2721.4,751.0 L2724.6,752.8 L2727.9,754.6 L2731.1,756.4 L2734.4,758.1 L2737.6,759.8 L2740.8,761.6 L2744.1,763.2 L2747.3,764.9 L2750.6,766.6 L2753.8,768.2" stroke="#55A0F5" stroke-width="2.18" fill="none"/>
<path d="M2238.7,670.0 L2241.9,670.0 L2245.2,670.1 L2248.4,670.1 L2251.7,670.2 L2254.9,670.3 L2258.1,670.4 L2261.4,670.4 L2264.6,670.5 L2267.9,670.6 L2271.1,670.8 L2274.3,670.9 L2277.6,671.0 L2280.8,671.1 L2284.1,671.3 L2287.3,671.4 L2290.5,671.6 L2293.8,671.8 L2297.0,672.0 L2300.3,672.2 L2303.5,672.4 L2306.7,672.6 L2310.0,672.9 L2313.2,673.1 L2316.5,673.4 L2319.7,673.7 L2322.9,674.1 L2326.2,674.4 L2329.4,674.8 L2332.6,675.2 L2335.9,675.6 L2339.1,676.1 L2342.4,676.6 L2345.6,677.1 L2348.8,677.7 L2352.1,678.3 L2355.3,679.0 L2358.6,679.7 L2361.8,680.5 L2365.0,681.3 L2368.3,682.1 L2371.5,683.0 L2374.8,684.0 L2378.0,685.1 L2381.2,686.2 L2384.5,687.4 L2387.7,688.6 L2391.0,690.0 L2394.2,691.4 L2397.4,692.9 L2400.7,694.5 L2403.9,696.2 L2407.2,698.1 L2410.4,700.0 L2413.6,702.0 L2416.9,704.2 L2420.1,706.5 L2423.4,708.9 L2426.6,711.4 L2429.8,714.1 L2433.1,716.8 L2436.3,719.8 L2439.6,722.9 L2442.8,726.1 L2446.0,729.5 L2449.3,733.0 L2452.5,736.6 L2455.8,740.4 L2459.0,744.4 L2462.2,748.5 L2465.5,752.7 L2468.7,757.1 L2472.0,761.6 L2475.2,766.2 L2478.4,770.9 L2481.7,775.7 L2484.9,780.7 L2488.2,785.7 L2491.4,790.8 L2494.6,795.9 L2497.9,801.1 L2501.1,806.4 L2504.3,811.7 L2507.6,816.9 L2510.8,822.2 L2514.1,827.5 L2517.3,832.7 L2520.5,837.9 L2523.8,843.1 L2527.0,848.2 L2530.3,853.2 L2533.5,858.1 L2536.7,862.9 L2540.0,867.6 L2543.2,872.2 L2546.5,876.6 L2549.7,881.0 L2552.9,885.2 L2556.2,889.2 L2559.4,893.2 L2562.7,896.9 L2565.9,900.6 L2569.1,904.1 L2572.4,907.4 L2575.6,910.6 L2578.9,913.6 L2582.1,916.5 L2585.3,919.3 L2588.6,922.0 L2591.8,924.5 L2595.1,926.8 L2598.3,929.1 L2601.5,931.2 L2604.8,933.2 L2608.0,935.1 L2611.3,936.9 L2614.5,938.6 L2617.7,940.2 L2621.0,941.7 L2624.2,943.1 L2627.5,944.5 L2630.7,945.7 L2633.9,946.9 L2637.2,948.0 L2640.4,949.0 L2643.7,950.0 L2646.9,950.9 L2650.1,951.7 L2653.4,952.5 L2656.6,953.3 L2659.9,954.0 L2663.1,954.6 L2666.3,955.2 L2669.6,955.8 L2672.8,956.3 L2676.0,956.8 L2679.3,957.3 L2682.5,957.7 L2685.8,958.1 L2689.0,958.5 L2692.2,958.8 L2695.5,959.2 L2698.7,959.5 L2702.0,959.8 L2705.2,960.0 L2708.4,960.3 L2711.7,960.5 L2714.9,960.7 L2718.2,960.9 L2721.4,961.1 L2724.6,961.3 L2727.9,961.4 L2731.1,961.6 L2734.4,961.7 L2737.6,961.9 L2740.8,962.0 L2744.1,962.1 L2747.3,962.2 L2750.6,962.3 L2753.8,962.4" stroke="#8A0008" stroke-width="2.18" fill="none"/>
<path d="M2238.7,648.1 L2241.9,648.1 L2245.2,648.1 L2248.4,648.1 L2251.7,648.1 L2254.9,648.1 L2258.1,648.1 L2261.4,648.1 L2264.6,648.1 L2267.9,648.1 L2271.1,648.1 L2274.3,648.1 L2277.6,648.1 L2280.8,648.1 L2284.1,648.1 L2287.3,648.2 L2290.5,648.2 L2293.8,648.2 L2297.0,648.2 L2300.3,648.2 L2303.5,648.2 L2306.7,648.3 L2310.0,648.3 L2313.2,648.3 L2316.5,648.4 L2319.7,648.4 L2322.9,648.4 L2326.2,648.5 L2329.4,648.5 L2332.6,648.6 L2335.9,648.7 L2339.1,648.8 L2342.4,648.9 L2345.6,649.0 L2348.8,649.1 L2352.1,649.2 L2355.3,649.4 L2358.6,649.5 L2361.8,649.7 L2365.0,649.9 L2368.3,650.2 L2371.5,650.5 L2374.8,650.8 L2378.0,651.1 L2381.2,651.5 L2384.5,652.0 L2387.7,652.5 L2391.0,653.1 L2394.2,653.7 L2397.4,654.4 L2400.7,655.3 L2403.9,656.2 L2407.2,657.2 L2410.4,658.4 L2413.6,659.7 L2416.9,661.2 L2420.1,662.8 L2423.4,664.7 L2426.6,666.8 L2429.8,669.1 L2433.1,671.6 L2436.3,674.5 L2439.6,677.6 L2442.8,681.1 L2446.0,685.0 L2449.3,689.3 L2452.5,693.9 L2455.8,699.0 L2459.0,704.6 L2462.2,710.6 L2465.5,717.1 L2468.7,724.1 L2472.0,731.6 L2475.2,739.5 L2478.4,747.9 L2481.7,756.7 L2484.9,765.9 L2488.2,775.4 L2491.4,785.2 L2494.6,795.2 L2497.9,805.3 L2501.1,815.4 L2504.3,825.6 L2507.6,835.6 L2510.8,845.5 L2514.1,855.1 L2517.3,864.4 L2520.5,873.4 L2523.8,881.9 L2527.0,890.0 L2530.3,897.7 L2533.5,904.9 L2536.7,911.6 L2540.0,917.8 L2543.2,923.5 L2546.5,928.8 L2549.7,933.7 L2552.9,938.1 L2556.2,942.1 L2559.4,945.7 L2562.7,949.0 L2565.9,952.0 L2569.1,954.7 L2572.4,957.1 L2575.6,959.3 L2578.9,961.2 L2582.1,962.9 L2585.3,964.5 L2588.6,965.8 L2591.8,967.1 L2595.1,968.1 L2598.3,969.1 L2601.5,970.0 L2604.8,970.7 L2608.0,971.4 L2611.3,972.0 L2614.5,972.6 L2617.7,973.0 L2621.0,973.5 L2624.2,973.8 L2627.5,974.2 L2630.7,974.4 L2633.9,974.7 L2637.2,974.9 L2640.4,975.1 L2643.7,975.3 L2646.9,975.5 L2650.1,975.6 L2653.4,975.7 L2656.6,975.8 L2659.9,975.9 L2663.1,976.0 L2666.3,976.1 L2669.6,976.2 L2672.8,976.2 L2676.0,976.3 L2679.3,976.3 L2682.5,976.4 L2685.8,976.4 L2689.0,976.4 L2692.2,976.5 L2695.5,976.5 L2698.7,976.5 L2702.0,976.5 L2705.2,976.5 L2708.4,976.6 L2711.7,976.6 L2714.9,976.6 L2718.2,976.6 L2721.4,976.6 L2724.6,976.6 L2727.9,976.6 L2731.1,976.6 L2734.4,976.6 L2737.6,976.6 L2740.8,976.6 L2744.1,976.6 L2747.3,976.7 L2750.6,976.7 L2753.8,976.7" stroke="#8A0008" stroke-width="2.18" fill="none"/>
<path d="M2424.9,659.0 V678.5 M2416.1,678.5 H2433.8" stroke="#55A0F5" stroke-width="2.5" fill="none"/>
<path d="M2556.5,647.5 V692.9 M2547.6,647.5 H2565.3 M2547.6,692.9 H2565.3" stroke="#55A0F5" stroke-width="2.5" fill="none"/>
<path d="M2622.3,651.5 V697.5 M2613.4,651.5 H2631.1 M2613.4,697.5 H2631.1" stroke="#55A0F5" stroke-width="2.5" fill="none"/>
<path d="M2688.0,668.7 V720.7 M2679.2,668.7 H2696.9 M2679.2,720.7 H2696.9" stroke="#55A0F5" stroke-width="2.5" fill="none"/>
<path d="M2753.8,677.2 V766.4 M2745.0,677.2 H2762.6 M2745.0,766.4 H2762.6" stroke="#55A0F5" stroke-width="2.5" fill="none"/>
<circle cx="2293.4" cy="646.7" r="9.0" fill="#55A0F5"/>
<circle cx="2359.2" cy="642.8" r="9.0" fill="#55A0F5"/>
<circle cx="2424.9" cy="659.0" r="9.0" fill="#55A0F5"/>
<circle cx="2490.7" cy="668.5" r="9.0" fill="#55A0F5"/>
<circle cx="2556.5" cy="670.2" r="9.0" fill="#55A0F5"/>
<circle cx="2622.3" cy="674.5" r="9.0" fill="#55A0F5"/>
<circle cx="2688.0" cy="694.7" r="9.0" fill="#55A0F5"/>
<circle cx="2753.8" cy="721.8" r="9.0" fill="#55A0F5"/>
<path d="M2359.2,590.0 V648.8 M2350.3,590.0 H2368.0 M2350.3,648.8 H2368.0" stroke="#55A0F5" stroke-width="2.5" fill="none"/>
<path d="M2490.7,623.9 V685.3 M2481.9,623.9 H2499.5 M2481.9,685.3 H2499.5" stroke="#55A0F5" stroke-width="2.5" fill="none"/>
<path d="M2556.5,639.7 V720.3 M2547.6,639.7 H2565.3 M2547.6,720.3 H2565.3" stroke="#55A0F5" stroke-width="2.5" fill="none"/>
<path d="M2622.3,679.0 V721.0 M2613.4,679.0 H2631.1 M2613.4,721.0 H2631.1" stroke="#55A0F5" stroke-width="2.5" fill="none"/>
<path d="M2688.0,709.1 V741.9 M2679.2,709.1 H2696.9 M2679.2,741.9 H2696.9" stroke="#55A0F5" stroke-width="2.5" fill="none"/>
<path d="M2753.8,749.7 V783.3 M2745.0,749.7 H2762.6 M2745.0,783.3 H2762.6" stroke="#55A0F5" stroke-width="2.5" fill="none"/>
<polygon points="2284.5,620.2 2302.3,620.2 2293.4,637.0" fill="#55A0F5"/>
<polygon points="2350.2,611.0 2368.1,611.0 2359.2,627.8" fill="#55A0F5"/>
<polygon points="2416.0,652.6 2433.9,652.6 2424.9,669.4" fill="#55A0F5"/>
<polygon points="2481.8,646.2 2499.6,646.2 2490.7,663.0" fill="#55A0F5"/>
<polygon points="2547.5,671.6 2565.4,671.6 2556.5,688.4" fill="#55A0F5"/>
<polygon points="2613.3,691.6 2631.2,691.6 2622.3,708.4" fill="#55A0F5"/>
<polygon points="2679.1,717.1 2697.0,717.1 2688.0,733.9" fill="#55A0F5"/>
<polygon points="2744.9,758.1 2762.7,758.1 2753.8,774.9" fill="#55A0F5"/>
<path d="M2359.2,679.4 V699.4 M2350.3,679.4 H2368.0 M2350.3,699.4 H2368.0" stroke="#AE0000" stroke-width="2.5" fill="none"/>
<path d="M2424.9,695.0 V739.0 M2416.1,695.0 H2433.8 M2416.1,739.0 H2433.8" stroke="#AE0000" stroke-width="2.5" fill="none"/>
<path d="M2490.7,763.5 V803.5 M2481.9,763.5 H2499.5 M2481.9,803.5 H2499.5" stroke="#AE0000" stroke-width="2.5" fill="none"/>
<polygon points="2284.5,690.5 2302.3,690.5 2293.4,673.7" fill="#AE0000"/>
<polygon points="2350.2,697.8 2368.1,697.8 2359.2,681.0" fill="#AE0000"/>
<polygon points="2416.0,725.4 2433.9,725.4 2424.9,708.6" fill="#AE0000"/>
<polygon points="2481.8,791.9 2499.6,791.9 2490.7,775.1" fill="#AE0000"/>
<polygon points="2547.5,899.9 2565.4,899.9 2556.5,883.1" fill="#AE0000"/>
<polygon points="2613.3,949.0 2631.2,949.0 2622.3,932.2" fill="#AE0000"/>
<polygon points="2679.1,962.8 2697.0,962.8 2688.0,946.0" fill="#AE0000"/>
<polygon points="2744.9,970.7 2762.7,970.7 2753.8,953.9" fill="#AE0000"/>
<path d="M2424.9,647.3 V687.3 M2416.1,647.3 H2433.8 M2416.1,687.3 H2433.8" stroke="#AE0000" stroke-width="2.5" fill="none"/>
<polygon points="2293.4,629.5 2302.5,638.4 2293.4,647.3 2284.3,638.4" fill="#AE0000"/>
<polygon points="2359.2,628.7 2368.3,637.6 2359.2,646.5 2350.0,637.6" fill="#AE0000"/>
<polygon points="2424.9,658.4 2434.1,667.3 2424.9,676.2 2415.8,667.3" fill="#AE0000"/>
<polygon points="2490.7,777.1 2499.8,786.0 2490.7,794.9 2481.6,786.0" fill="#AE0000"/>
<polygon points="2556.5,935.0 2565.6,943.9 2556.5,952.8 2547.4,943.9" fill="#AE0000"/>
<polygon points="2622.3,961.2 2631.4,970.1 2622.3,979.0 2613.1,970.1" fill="#AE0000"/>
<polygon points="2688.0,967.0 2697.1,975.9 2688.0,984.8 2678.9,975.9" fill="#AE0000"/>
<polygon points="2753.8,973.0 2762.9,981.9 2753.8,990.8 2744.7,981.9" fill="#AE0000"/>
<path d="M2238.6,573.7 V1007.3 M2222.0,1007.3 H2803.0 M2222.0,920.6 H2238.6 M2222.0,833.9 H2238.6 M2222.0,747.1 H2238.6 M2222.0,660.4 H2238.6 M2222.0,573.7 H2238.6 M2238.4,1007.3 V1023.9 M2332.5,1007.3 V1023.9 M2426.6,1007.3 V1023.9 M2520.7,1007.3 V1023.9 M2614.8,1007.3 V1023.9 M2708.9,1007.3 V1023.9 M2803.0,1007.3 V1023.9" stroke="#000" stroke-width="2.6" fill="none" stroke-linecap="butt"/>
<text x="2217.1" y="1017.97" text-anchor="end" font-size="34" textLength="17.96" lengthAdjust="spacingAndGlyphs">0</text>
<text x="2217.1" y="931.25" text-anchor="end" font-size="34" textLength="35.92" lengthAdjust="spacingAndGlyphs">25</text>
<text x="2217.1" y="844.53" text-anchor="end" font-size="34" textLength="35.92" lengthAdjust="spacingAndGlyphs">50</text>
<text x="2217.1" y="757.81" text-anchor="end" font-size="34" textLength="35.92" lengthAdjust="spacingAndGlyphs">75</text>
<text x="2217.1" y="671.09" text-anchor="end" font-size="34" textLength="53.88" lengthAdjust="spacingAndGlyphs">100</text>
<text x="2217.1" y="584.37" text-anchor="end" font-size="34" textLength="53.88" lengthAdjust="spacingAndGlyphs">125</text>
<text x="2236.6" y="1059.37" text-anchor="middle" font-size="34" textLength="98.79" lengthAdjust="spacingAndGlyphs">0.0001</text>
<text x="2330.7" y="1059.37" text-anchor="middle" font-size="34" textLength="80.82" lengthAdjust="spacingAndGlyphs">0.001</text>
<text x="2424.8" y="1059.37" text-anchor="middle" font-size="34" textLength="62.86" lengthAdjust="spacingAndGlyphs">0.01</text>
<text x="2518.9" y="1059.37" text-anchor="middle" font-size="34" textLength="44.90" lengthAdjust="spacingAndGlyphs">0.1</text>
<text x="2613.0" y="1059.37" text-anchor="middle" font-size="34" textLength="17.96" lengthAdjust="spacingAndGlyphs">1</text>
<text x="2708.9" y="1059.37" text-anchor="middle" font-size="34" textLength="35.92" lengthAdjust="spacingAndGlyphs">10</text>
<text x="2803.0" y="1059.37" text-anchor="middle" font-size="34" textLength="53.88" lengthAdjust="spacingAndGlyphs">100</text>
<text transform="translate(2140.50,788.90) rotate(-90)" text-anchor="middle" font-size="36" textLength="194.80" lengthAdjust="spacingAndGlyphs">Viability (%)</text>
<text x="2521.90" y="1114.80" text-anchor="middle" font-size="36" textLength="233.80" lengthAdjust="spacingAndGlyphs">MRT-2359, <tspan font-family="'Liberation Serif', serif">&#956;</tspan>M</text></g>
<g font-family="'DejaVu Sans Condensed', 'DejaVu Sans', sans-serif" fill="#0A0A60" stroke="#0A0A60" stroke-width="0.5" paint-order="stroke" stroke-linejoin="round"><text x="312.85" y="1244.20" text-anchor="start" font-size="31.2" textLength="190.99" lengthAdjust="spacingAndGlyphs" font-weight="bold">High N-MYC</text>
<text x="664.60" y="1244.20" text-anchor="start" font-size="31.2" textLength="183.28" lengthAdjust="spacingAndGlyphs" font-weight="bold">Low N-MYC</text>
<text x="414.35" y="1314.20" text-anchor="start" font-size="31.2" textLength="154.03" lengthAdjust="spacingAndGlyphs">NCI-H1155</text>
<text x="416.20" y="1373.90" text-anchor="start" font-size="31.2" textLength="83.63" lengthAdjust="spacingAndGlyphs">ABC-1</text>
<text x="763.50" y="1314.20" text-anchor="start" font-size="31.2" textLength="154.33" lengthAdjust="spacingAndGlyphs">NCI-H2023</text>
<text x="763.45" y="1373.90" text-anchor="start" font-size="31.2" textLength="136.41" lengthAdjust="spacingAndGlyphs">NCI-H441</text>
<text x="1236.40" y="1246.20" text-anchor="start" font-size="31.2" textLength="185.70" lengthAdjust="spacingAndGlyphs" font-weight="bold">High L-MYC</text>
<text x="1571.85" y="1244.20" text-anchor="start" font-size="31.2" textLength="176.95" lengthAdjust="spacingAndGlyphs" font-weight="bold">Low L-MYC</text>
<text x="1337.55" y="1312.50" text-anchor="start" font-size="31.2" textLength="153.62" lengthAdjust="spacingAndGlyphs">NCI-H1836</text>
<text x="1337.55" y="1372.10" text-anchor="start" font-size="31.2" textLength="153.62" lengthAdjust="spacingAndGlyphs">NCI-H1876</text>
<text x="1670.35" y="1312.50" text-anchor="start" font-size="31.2" textLength="153.63" lengthAdjust="spacingAndGlyphs">NCI-H2286</text>
<text x="1670.65" y="1372.10" text-anchor="start" font-size="31.2" textLength="136.41" lengthAdjust="spacingAndGlyphs">NCI-H196</text>
<text x="2191.70" y="1244.90" text-anchor="start" font-size="31.2" textLength="126.89" lengthAdjust="spacingAndGlyphs" font-weight="bold">High NE</text>
<text x="2527.55" y="1242.90" text-anchor="start" font-size="31.2" textLength="118.92" lengthAdjust="spacingAndGlyphs" font-weight="bold">Low NE</text>
<text x="2279.65" y="1309.30" text-anchor="start" font-size="31.2" textLength="137.23" lengthAdjust="spacingAndGlyphs">NCI-H810</text>
<text x="2280.30" y="1369.10" text-anchor="start" font-size="31.2" textLength="154.35" lengthAdjust="spacingAndGlyphs">NCI-H1770</text>
<text x="2612.80" y="1309.30" text-anchor="start" font-size="31.2" textLength="155.40" lengthAdjust="spacingAndGlyphs">NCI-H2405</text>
<text x="2612.90" y="1369.10" text-anchor="start" font-size="31.2" textLength="153.54" lengthAdjust="spacingAndGlyphs">NCI-H1693</text></g>
<path d="M337.3,1300.0 H388.7" stroke="#C85A5A" stroke-width="2.4"/>
<polygon points="353.1,1309.7 372.9,1309.7 363.0,1290.3" fill="#AE0000"/>
<path d="M337.3,1362.7 H388.7" stroke="#AE0000" stroke-width="1.9"/>
<polygon points="363.4,1353.1 373.0,1362.7 363.4,1372.3 353.8,1362.7" fill="#AE0000"/>
<path d="M682.1,1297.6 H729.8" stroke="#55A0F5" stroke-width="2.2"/>
<circle cx="706.2" cy="1297.6" r="9" fill="#55A0F5"/>
<path d="M682.1,1357.8 H729.8" stroke="#55A0F5" stroke-width="2.2"/>
<polygon points="697.0,1348.8 715.4,1348.8 706.2,1366.8" fill="#55A0F5"/>
<path d="M1256.0,1300.0 H1307.5" stroke="#C85A5A" stroke-width="2.4"/>
<polygon points="1272.2,1309.7 1291.9,1309.7 1282.1,1290.3" fill="#AE0000"/>
<path d="M1256.0,1362.7 H1307.5" stroke="#AE0000" stroke-width="1.9"/>
<polygon points="1282.1,1353.1 1291.7,1362.7 1282.1,1372.3 1272.5,1362.7" fill="#AE0000"/>
<path d="M1589.4,1295.7 H1636.6" stroke="#55A0F5" stroke-width="2.2"/>
<circle cx="1612.5" cy="1295.7" r="9" fill="#55A0F5"/>
<path d="M1589.4,1356.5 H1636.6" stroke="#55A0F5" stroke-width="2.2"/>
<polygon points="1603.3,1347.5 1621.7,1347.5 1612.5,1365.5" fill="#55A0F5"/>
<path d="M2214.2,1298.4 H2258.9" stroke="#C85A5A" stroke-width="2.4"/>
<polygon points="2229.7,1308.1 2249.3,1308.1 2239.5,1288.8" fill="#AE0000"/>
<path d="M2214.2,1361.0 H2258.9" stroke="#AE0000" stroke-width="1.9"/>
<polygon points="2239.5,1351.4 2249.1,1361.0 2239.5,1370.6 2229.9,1361.0" fill="#AE0000"/>
<path d="M2552.0,1298.6 H2591.0" stroke="#55A0F5" stroke-width="2.2"/>
<circle cx="2575.4" cy="1298.6" r="9" fill="#55A0F5"/>
<path d="M2552.0,1359.0 H2591.0" stroke="#55A0F5" stroke-width="2.2"/>
<polygon points="2566.2,1350.0 2584.6,1350.0 2575.4,1368.0" fill="#55A0F5"/>
<g font-family="'DejaVu Sans Condensed', 'DejaVu Sans', sans-serif" fill="#7F7F7F" stroke="#7F7F7F" stroke-width="0.4" paint-order="stroke"><text x="1305.30" y="1526.00" text-anchor="start" font-size="30.5" textLength="365.29" lengthAdjust="spacingAndGlyphs">72 hr viability assay (CTG)</text></g>
<circle cx="0" cy="1474" r="133.5" fill="#FFFF00"/>
<g fill="#0B3FBF"><polygon points="20.9,1454.9 49.6,1405.9 61.9,1428.2 47.6,1454.9"/><polygon points="84.5,1405.9 97.1,1427.9 68.4,1476.9 56.1,1455.1"/><polygon points="101.5,1436.4 112.7,1454.9 90.7,1454.9"/></g>
<g font-family="'DejaVu Sans Condensed', 'DejaVu Sans', sans-serif" fill="#1A3690" stroke="#1A3690" stroke-width="0.6" paint-order="stroke"><text x="50.20" y="1536.60" text-anchor="start" font-size="31" textLength="35.98" lengthAdjust="spacingAndGlyphs">22</text></g>
</svg>
</body></html>
